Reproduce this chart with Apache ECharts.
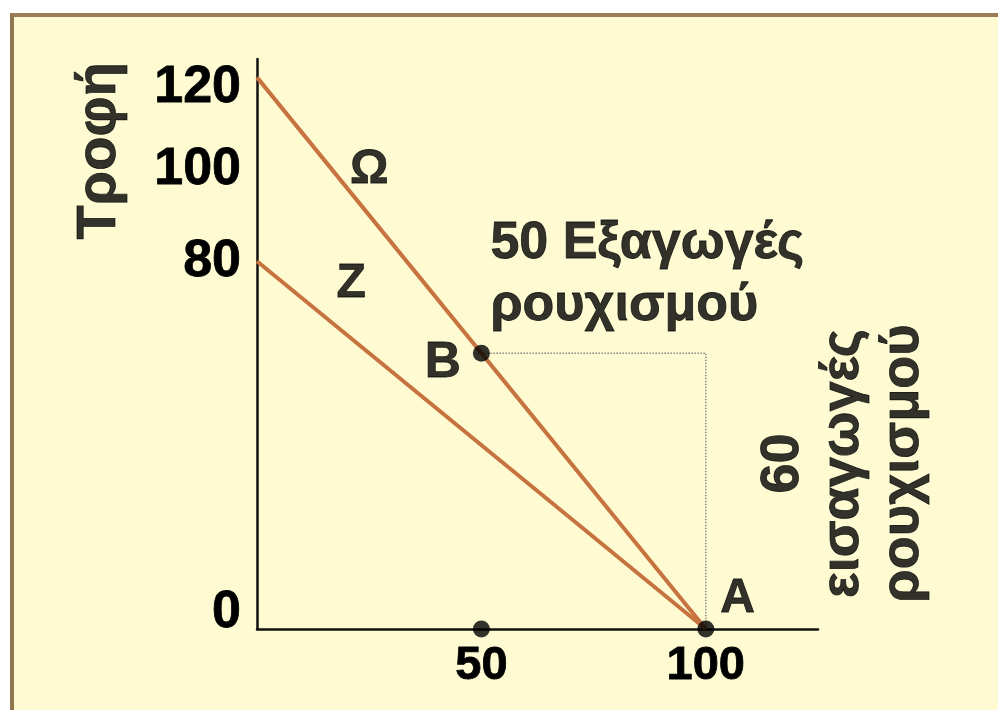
<!DOCTYPE html>
<html>
<head>
<meta charset="utf-8">
<script src="https://cdn.jsdelivr.net/npm/echarts@6/dist/echarts.min.js"></script>
<style>
  html, body { margin: 0; padding: 0; background: #ffffff; }
  #frame { position: absolute; left: 10px; top: 13px; width: 984px; height: 697px;
           background: #FEFBD3; border-top: 4px solid #9C7B57; border-left: 4px solid #8F7550; }
  #chart { position: absolute; left: 0; top: 0; width: 998px; height: 710px; }
</style>
</head>
<body>
<div id="frame"></div>
<div id="chart"></div>
<script>
// ---- data ----
const lineOmega = [[0, 120], [100, 0]];
const lineZ = [[0, 80], [100, 0]];
const guide = [[50, 60], [100, 60], [100, 0]];
const dotB = [50, 60];
const dot50 = [50, 0];
const dotA = [100, 0];
const yTicks = [0, 80, 100, 120];
const xTicks = [50, 100];
const curveLabels = [
  { text: 'Ω', at: [25, 100] },
  { text: 'Z', at: [21, 75] }
];
const exportText = { text: '50 Εξαγωγές\nρουχισμού', at: [52, 77] };
const importText = { text: '60\nεισαγωγές\nρουχισμού', at: [130.5, 36] };
const yName = { text: 'Τροφή', at: [-35, 104] };

const FONT = 'Liberation Sans';
const lineColor = '#C6733F';

const chart = echarts.init(document.getElementById('chart'));
const bigLabel = { fontFamily: FONT, fontWeight: 'bold', color: '#000', textBorderColor: '#000', textBorderWidth: 0.8 };

chart.setOption({
  backgroundColor: 'transparent',
  animation: false,
  grid: { left: 257, right: 180, top: 59, bottom: 81, containLabel: false },
  xAxis: {
    type: 'value', min: 0, max: 125,
    splitLine: { show: false },
    axisLine: { lineStyle: { color: '#111', width: 2.5 } },
    axisTick: { show: false },
    axisLabel: Object.assign({ customValues: xTicks, fontSize: 47, margin: 14 }, bigLabel)
  },
  yAxis: {
    type: 'value', min: 0, max: 124,
    splitLine: { show: false },
    axisLine: { show: true, lineStyle: { color: '#111', width: 2.5 } },
    axisTick: { show: false },
    axisLabel: Object.assign({ customValues: yTicks, fontSize: 52, margin: 16,
      formatter: v => v === 0 ? '{lo|0}' : (v === 120 ? '{hi|120}' : String(v)),
      rich: {
        lo: Object.assign({ fontSize: 52, padding: [0, 0, 32, 0] }, bigLabel),
        hi: Object.assign({ fontSize: 52, padding: [20, 0, 0, 0] }, bigLabel)
      }
    }, bigLabel)
  },
  series: [
    { type: 'line', data: guide, symbol: 'none', silent: true,
      lineStyle: { color: '#8a8a80', width: 1.5, type: 'dotted' }, z: 1 },
    { type: 'line', data: lineOmega, symbol: 'none',
      lineStyle: { color: lineColor, width: 4 }, z: 2 },
    { type: 'line', data: lineZ, symbol: 'none',
      lineStyle: { color: lineColor, width: 4 }, z: 2 },
    { type: 'scatter', symbolSize: 17, itemStyle: { color: '#000' }, z: 5,
      data: [
        { value: dotB, label: Object.assign({ show: true, formatter: 'B', position: 'left', distance: 12, fontSize: 50, offset: [0, 10] }, bigLabel) },
        { value: dot50 },
        { value: dotA, label: Object.assign({ show: true, formatter: 'A', position: 'right', distance: 6, fontSize: 48, offset: [0, -30] }, bigLabel) }
      ]
    },
    { type: 'scatter', symbolSize: 0, clip: false, silent: true, z: 6,
      data: [
        ...curveLabels.map(c => ({ value: c.at, label: Object.assign({ show: true, formatter: c.text, position: 'inside', fontSize: 48 }, bigLabel) })),
        { value: exportText.at, label: Object.assign({ show: true, formatter: exportText.text, position: 'right', distance: 0, align: 'left', fontSize: 52, lineHeight: 62 }, bigLabel) },
        { value: importText.at, label: Object.assign({ show: true, formatter: importText.text, position: 'inside', rotate: 90, fontSize: 54, lineHeight: 60 }, bigLabel) },
        { value: yName.at, label: Object.assign({ show: true, formatter: yName.text, position: 'inside', rotate: 90, fontSize: 56 }, bigLabel) }
      ]
    }
  ]
});
</script>
</body>
</html>
